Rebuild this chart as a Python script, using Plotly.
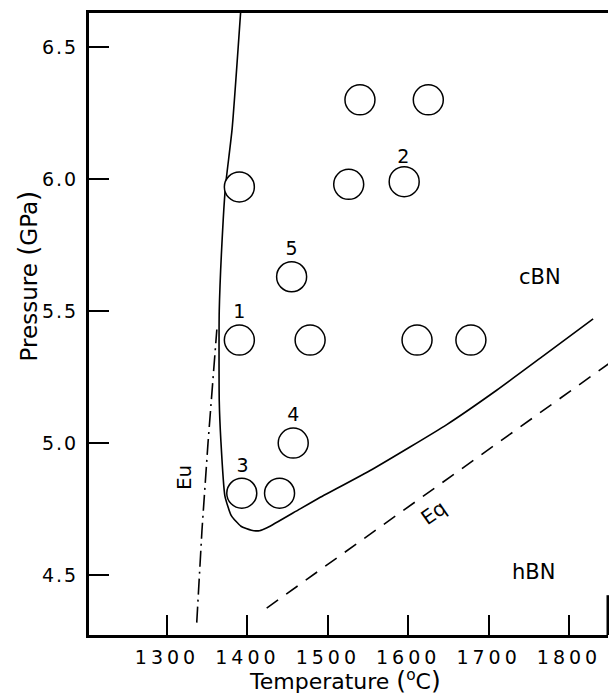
import plotly.graph_objects as go

# experiment points (temperature °C, pressure GPa)
pts_T = [1540, 1625, 1390, 1526, 1595, 1455, 1390, 1478, 1611, 1678, 1457, 1393, 1440]
pts_P = [6.30, 6.30, 5.97, 5.98, 5.99, 5.63, 5.39, 5.39, 5.39, 5.39, 5.00, 4.81, 4.81]

# numbered labels
lbl_text = ["1", "2", "3", "4", "5"]
lbl_T = [1390, 1594, 1394, 1457, 1455]
lbl_P = [5.49, 6.08, 4.91, 5.10, 5.73]

# cBN / hBN boundary (solid)
bound_T = [1392, 1381, 1373, 1370, 1365, 1365, 1367, 1372, 1380, 1392, 1405, 1415, 1425, 1465, 1488, 1555, 1648, 1710, 1768, 1830]
bound_P = [6.65, 6.19, 5.98, 5.85, 5.50, 5.16, 5.01, 4.80, 4.725, 4.685, 4.67, 4.668, 4.68, 4.75, 4.79, 4.90, 5.07, 5.20, 5.33, 5.47]

# equilibrium line Eq (dashed)
eq_T = [1424, 1849]
eq_P = [4.375, 5.30]

# Eu line (dash-dot)
eu_T = [1337, 1340, 1343.5, 1351, 1357, 1362]
eu_P = [4.32, 4.49, 4.67, 5.00, 5.23, 5.43]

x_ticks = [1300, 1400, 1500, 1600, 1700, 1800]
y_ticks = [4.5, 5.0, 5.5, 6.0, 6.5]

FONT = "DejaVu Sans"

fig = go.Figure()
fig.add_trace(go.Scatter(x=eu_T, y=eu_P, mode="lines",
                         line=dict(color="black", width=1.6, dash="16px,5px,2px,5px"),
                         showlegend=False, hoverinfo="skip"))
fig.add_trace(go.Scatter(x=eq_T, y=eq_P, mode="lines",
                         line=dict(color="black", width=1.6, dash="14px,10px"),
                         showlegend=False, hoverinfo="skip"))
fig.add_trace(go.Scatter(x=bound_T, y=bound_P, mode="lines",
                         line=dict(color="black", width=1.6, shape="spline", smoothing=0.5),
                         showlegend=False, hoverinfo="skip"))
fig.add_trace(go.Scatter(x=pts_T, y=pts_P, mode="markers",
                         marker=dict(symbol="circle", size=30, color="white",
                                     line=dict(color="black", width=1.5)),
                         showlegend=False, hoverinfo="skip"))
fig.add_trace(go.Scatter(x=lbl_T, y=lbl_P, mode="text", text=lbl_text,
                         textfont=dict(family=FONT, size=19, color="black"),
                         showlegend=False, hoverinfo="skip"))

ann = [
    dict(x=1764, y=5.63, text="cBN", font=dict(size=21)),
    dict(x=1756, y=4.51, text="hBN", font=dict(size=21)),
    dict(x=1631, y=4.735, text="Eq", textangle=-35, font=dict(size=20)),
    dict(x=1322, y=4.87, text="Eu", textangle=-90, font=dict(size=20)),
]
annotations = []
for a in ann:
    d = dict(xref="x", yref="y", showarrow=False, xanchor="center", yanchor="middle")
    f = dict(family=FONT, color="black")
    f.update(a.pop("font"))
    d.update(a)
    d["font"] = f
    annotations.append(d)

annotations.append(dict(
    xref="paper", yref="paper", x=0.493, y=-0.1, xanchor="center", yanchor="bottom",
    showarrow=False,
    text="Temperature <span style='font-size:25px'>(</span><sup>o</sup>C<span style='font-size:25px'>)</span>",
    font=dict(family=FONT, size=22, color="black")))
annotations.append(dict(
    xref="paper", yref="paper", x=-0.117, y=0.577, xanchor="center", yanchor="middle",
    showarrow=False, textangle=-90,
    text="Pressure <span style='font-size:26px'>(</span>GPa<span style='font-size:26px'>)</span>",
    font=dict(family=FONT, size=23, color="black")))

fig.update_layout(
    width=609, height=698,
    margin=dict(l=89, r=1, t=13, b=63),
    paper_bgcolor="white", plot_bgcolor="white",
    annotations=annotations,
    shapes=[dict(type="line", xref="paper", yref="paper", x0=1, x1=1, y0=0, y1=0.064,
                 line=dict(color="black", width=3))],
)
fig.update_xaxes(range=[1203, 1848.5], tickvals=x_ticks, ticks="inside", ticklen=20,
                 tickwidth=2, tickcolor="black", showline=True, linewidth=3, linecolor="black",
                 mirror=True, showgrid=False, zeroline=False, ticklabelstandoff=3,
                 tickfont=dict(family=FONT, size=19, color="black"))
fig.update_yaxes(range=[4.273, 6.629], tickvals=y_ticks, tickformat=".1f", ticks="inside",
                 ticklen=20, tickwidth=2, tickcolor="black", showline=True, linewidth=3,
                 linecolor="black", mirror=False, showgrid=False, zeroline=False,
                 ticklabelstandoff=4,
                 tickfont=dict(family=FONT, size=19, color="black"))

post = ("document.body.style.margin='0';"
        "document.querySelectorAll('.xtick text').forEach(function(t){t.style.letterSpacing='4px';});"
        "document.querySelectorAll('.ytick text').forEach(function(t){t.style.letterSpacing='2px';});")
fig.write_html("out.html", post_script=post, config={"displayModeBar": False})
